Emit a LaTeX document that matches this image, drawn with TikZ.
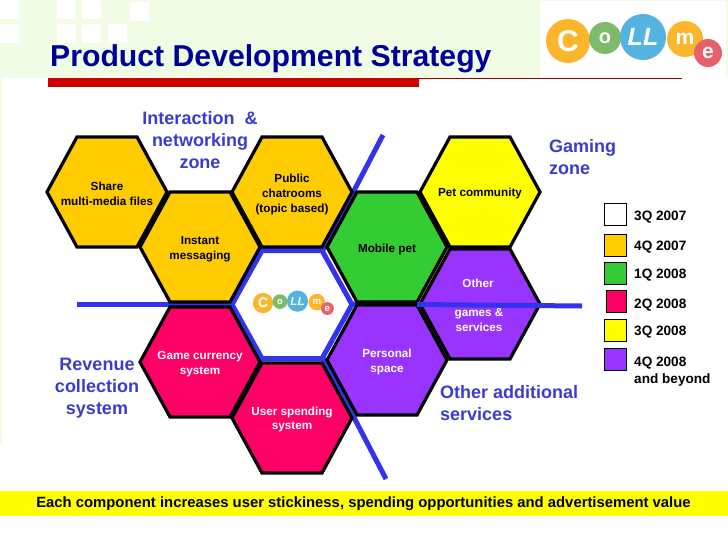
\documentclass[tikz,border=0pt]{standalone}
\usepackage{fontspec}
\setmainfont{Liberation Sans}
\usetikzlibrary{positioning}
\definecolor{paleband}{HTML}{F1FCE5}
\definecolor{titleblue}{HTML}{000099}
\definecolor{zoneblue}{HTML}{3C3CCC}
\definecolor{lineblue}{HTML}{3333EE}
\definecolor{ruleread}{HTML}{CC0000}
\definecolor{cellorange}{HTML}{FFCC00}
\definecolor{cellgreen}{HTML}{33CC33}
\definecolor{cellpink}{HTML}{FF0066}
\definecolor{cellpurple}{HTML}{9933FF}
\definecolor{cellyellow}{HTML}{FFFF00}
\definecolor{ballorange}{HTML}{FBB72C}
\definecolor{ballgreen}{HTML}{7DBB6A}
\definecolor{ballblue}{HTML}{55B3E0}
\definecolor{ballred}{HTML}{E8606A}
\begin{document}
\begin{tikzpicture}[
  x=1pt, y=-1pt,
  cell/.style={draw=black, line width=3.2pt, line join=miter},
  celltext/.style={font=\fontsize{11.7}{14.6}\selectfont\bfseries, align=center, inner sep=0pt},
  zone/.style={font=\fontsize{18}{22}\selectfont\bfseries, text=zoneblue, align=center, inner sep=0pt},
  divider/.style={draw=lineblue, line width=5pt},
  keybox/.style={draw=black, line width=0.6pt, minimum width=22pt, minimum height=22pt, inner sep=0pt},
  keytext/.style={font=\fontsize{13.6}{17}\selectfont\bfseries, align=left, inner sep=0pt, anchor=west, yshift=-2.5pt},
  ball/.style={circle, inner sep=0pt, transform shape, text=white, font=\bfseries},
  logo/.pic={
    \node[ball, fill=ballorange, minimum size=44pt, font=\fontsize{30}{30}\selectfont\bfseries] (-c) at (0,0) {C};
    \node[ball, fill=ballgreen, minimum size=32pt, font=\fontsize{20}{20}\selectfont\bfseries] (-o) at (37,-3) {o};
    \node[ball, fill=ballblue, minimum size=46pt, font=\fontsize{25}{25}\selectfont\bfseries\itshape] (-l) at (75,-4) {LL};
    \node[ball, fill=ballorange, minimum size=36pt, font=\fontsize{21}{21}\selectfont\bfseries] (-m) at (117,-2) {m};
    \node[ball, fill=ballred, minimum size=28pt, font=\fontsize{21}{21}\selectfont\bfseries] (-e) at (140,12) {e};
  }
]
  \useasboundingbox (0,0) rectangle (728,546);

  % page background
  \fill[white] (0,0) rectangle (728,546);
  \fill[paleband] (0,0) rectangle (728,78);
  \fill[paleband] (0,78) rectangle (2,445);
  \foreach \x/\y in {0/0, 57/0, 82/0, 130/2, 0/24, 57/24, 82/24, 108/24} {
    \fill[white] (\x,\y) rectangle ++(19,19);
  }
  \fill[white] (540,1) rectangle (726,78);

  % title and rules
  \node[font=\fontsize{30.2}{34}\selectfont\bfseries, text=titleblue, anchor=west, inner sep=0pt] (title) at (50,59) {Product Development Strategy};
  \fill[ruleread] (48,78) rectangle (419,87);
  \draw[ruleread!75!black, line width=0.7pt] (419,78.5) -- (682,78.5);

  % logo top right
  \pic (biglogo) at (568,41) {logo};

  % zone dividers, under the cells
  \coordinate (hubW) at (232,304);
  \coordinate (hubE) at (352,304);
  \coordinate (hubNE) at (323,250);
  \coordinate (hubSE) at (323,358);
  \coordinate (divW) at (77,304);
  \coordinate (divE) at (417,304.5);
  \coordinate (divEnd) at (582,306);
  \coordinate (divN) at (383,135);
  \coordinate (divS) at (386,479);
  \draw[divider] (divW) -- (hubW);
  \draw[divider] (hubE) -- (divE);
  \draw[divider] (hubNE) -- (divN);
  \draw[divider] (hubSE) -- (divS);

  % centre cell
  \coordinate (hub) at (292,304.5);
  \draw[divider, fill=white, line join=miter] (hub) ++(-60,0) -- ++(30,-54) -- ++(60,0) -- ++(30,54) -- ++(-30,54) -- ++(-60,0) -- cycle;
  \pic[scale=0.46] (hublogo) at (263,303) {logo};

  % product cells
  \foreach \name/\x/\y/\col in {share/107/192/cellorange, chat/292/192/cellorange, instant/200/247/cellorange,
    pet/480/192/cellyellow, other/480/304/cellpurple, mobile/387/247/cellgreen,
    currency/200/362/cellpink, spending/292/418/cellpink, personal/387/360/cellpurple} {
    \coordinate (\name) at (\x,\y);
    \draw[cell, fill=\col] (\name) ++(-60,0) -- ++(30,-55) -- ++(60,0) -- ++(30,55) -- ++(-30,55) -- ++(-60,0) -- cycle;
  }

  % the one divider that runs over a cell
  \draw[divider] (divE) -- (divEnd);

  % cell labels
  \node[celltext] (sharetext) at (107,194) {Share\\multi-media files};
  \node[celltext] (chattext) at (292,194.5) {Public\\chatrooms\\(topic based)};
  \node[celltext] (instanttext) at (200,249) {Instant\\messaging};
  \node[celltext] (mobiletext) at (387,249) {Mobile pet};
  \node[celltext] (pettext) at (480,193) {Pet community};
  \node[celltext, text=white] (othertext) at (478,283) {Other};
  \node[celltext, text=white] (gamestext) at (479,320) {games \&\\services};
  \node[celltext, text=white] (personaltext) at (387,362) {Personal\\space};
  \node[celltext, text=white] (currencytext) at (200,364) {Game currency\\system};
  \node[celltext, text=white] (spendingtext) at (292,419.5) {User spending\\system};

  % zone labels
  \node[zone] (interaction) at (200,140) {Interaction~~\&\\networking\\zone};
  \node[zone, align=left, anchor=west] (gaming) at (549,157) {Gaming\\zone};
  \node[zone] (revenue) at (97,388) {Revenue\\collection\\system};
  \node[zone, align=left, anchor=west] (additional) at (440,403) {Other additional\\services};

  % legend
  \foreach \name/\x/\y/\col/\lab in {a/615.5/214.5/white/3Q 2007, b/615.5/245/cellorange/4Q 2007, c/615.5/273/cellgreen/1Q 2008,
    e/615.5/330/cellyellow/3Q 2008} {
    \node[keybox, fill=\col] (key\name) at (\x,\y) {};
    \node[keytext] (lab\name) at (634,\y) {\lab};
  }
  \node[keybox, fill=cellpink, minimum width=20pt] (keyd) at (616,301.5) {};
  \node[keytext] (labd) at (634,303) {2Q 2008};
  \node[keybox, fill=cellpurple] (keyf) at (615.5,359) {};
  \node[keytext] (labf) at (634,369) {4Q 2008\\and beyond};

  % bottom band
  \fill[cellyellow] (0,491) rectangle (728,516);
  \node[font=\fontsize{14.85}{18}\selectfont\bfseries, inner sep=0pt] (footer) at (363.5,504) {Each component increases user stickiness, spending opportunities and advertisement value};
\end{tikzpicture}
\end{document}
